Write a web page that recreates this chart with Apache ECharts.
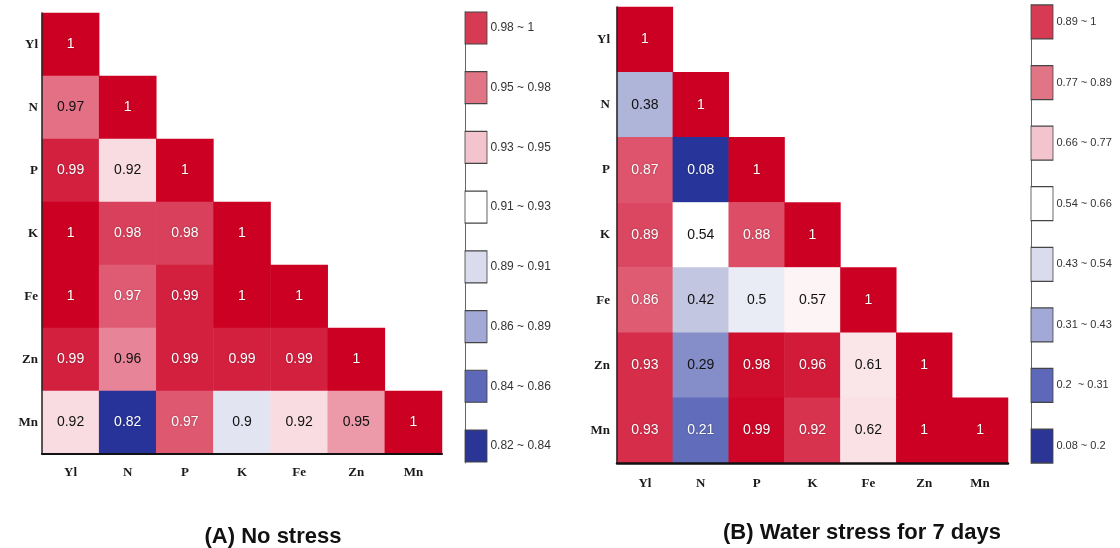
<!DOCTYPE html>
<html>
<head>
<meta charset="utf-8">
<script src="https://cdn.jsdelivr.net/npm/echarts@6/dist/echarts.min.js"></script>
<style>html,body{margin:0;padding:0;background:#fff}#c{width:1120px;height:548px}</style>
</head>
<body>
<div id="c"></div>
<script>
// ---- data ----
const variables = ['Yl', 'N', 'P', 'K', 'Fe', 'Zn', 'Mn'];
// lower triangle, row by row (row variable vs column variable)
const noStress = [
  [1],
  [0.966, 1],
  [0.99, 0.92, 1],
  [1, 0.98, 0.98, 1],
  [1, 0.972, 0.99, 1, 1],
  [0.99, 0.96, 0.99, 0.99, 0.99, 1],
  [0.92, 0.82, 0.973, 0.9, 0.92, 0.95, 1]
];
const waterStress = [
  [1],
  [0.38, 1],
  [0.87, 0.08, 1],
  [0.89, 0.54, 0.88, 1],
  [0.86, 0.42, 0.5, 0.57, 1],
  [0.93, 0.29, 0.98, 0.96, 0.61, 1],
  [0.93, 0.21, 0.99, 0.92, 0.62, 1, 1]
];
const legendA = ['0.98 ~ 1', '0.95 ~ 0.98', '0.93 ~ 0.95', '0.91 ~ 0.93', '0.89 ~ 0.91', '0.86 ~ 0.89', '0.84 ~ 0.86', '0.82 ~ 0.84'];
const legendB = ['0.89 ~ 1', '0.77 ~ 0.89', '0.66 ~ 0.77', '0.54 ~ 0.66', '0.43 ~ 0.54', '0.31 ~ 0.43', '0.2  ~ 0.31', '0.08 ~ 0.2'];
const titles = ['(A) No stress', '(B) Water stress for 7 days'];

// ---- styles ----
const legendColors = ['#d73a53', '#e27585', '#f3c4cd', '#ffffff', '#dadcee', '#a3a9d7', '#5d68b8', '#2a3596'];
const stopsA = ['#283399', '#4a56b0', '#7a84c4', '#b0b6db', '#e2e4f1', '#f9dce2', '#f0aebb', '#e88497', '#d9405b', '#cc0022'];
const stopsB = ['#27359a', '#5a66b8', '#8e96cb', '#c4c8e2', '#ffffff', '#f6d4db', '#ec9aaa', '#dc4a63', '#cc0022'];

function fmt(v) { return String(parseFloat(v.toFixed(2))); }
function cells(rows, darkText) {
  const out = [];
  rows.forEach((row, r) => row.forEach((v, c) => {
    const d = darkText(v);
    out.push({ value: [c, r, v], label: { color: d ? '#111' : '#fff',
      textShadowColor: d ? 'transparent' : 'rgba(0,0,0,0.35)', textShadowBlur: d ? 0 : 2 } });
  }));
  return out;
}
const darkA = v => v >= 0.87 && v < 0.969;
const darkB = v => v >= 0.25 && v < 0.8;

const axisFont = { fontFamily: 'Liberation Serif', fontWeight: 'bold', fontSize: 13, color: '#1a1a1a' };

function heatAxes(gi, xMargin, yMargin, xw) {
  return {
    x: { type: 'category', gridIndex: gi, data: variables, z: 5,
      axisLine: { lineStyle: { color: '#111', width: xw } },
      axisTick: { alignWithLabel: true, length: 6, lineStyle: { color: '#222', width: 1.5 } },
      axisLabel: Object.assign({ margin: xMargin }, axisFont), splitLine: { show: false } },
    y: { type: 'category', gridIndex: gi, data: variables, inverse: true, z: 5,
      axisLine: { lineStyle: { color: '#222', width: 1.5 } },
      axisTick: { alignWithLabel: true, length: 5, lineStyle: { color: '#222', width: 1.5 } },
      axisLabel: Object.assign({ margin: yMargin }, axisFont), splitLine: { show: false } }
  };
}
function legendAxes(gi, min, max) {
  return {
    x: { type: 'category', gridIndex: gi, data: [''], show: false },
    y: { type: 'value', gridIndex: gi, inverse: true, min: min, max: max,
      axisLine: { show: true, lineStyle: { color: '#666', width: 1 } },
      axisTick: { show: true, inside: true, length: 4, customValues: [0,1,2,3,4,5,6,7], lineStyle: { color: '#333' } },
      axisLabel: { show: false }, splitLine: { show: false } }
  };
}
const hA = heatAxes(0, 12, 4, 2), hB = heatAxes(1, 14, 7, 2.5);
const lA = legendAxes(2, -0.268, 7.285), lB = legendAxes(3, -0.28, 7.28);

function legendSeries(gi, labels, h, fs) {
  return { type: 'scatter', xAxisIndex: gi, yAxisIndex: gi, symbol: 'rect', symbolSize: [22, h],
    data: labels.map((l, i) => [0, i]),
    itemStyle: { color: p => legendColors[p.dataIndex], borderColor: '#444', borderWidth: 1, opacity: 1 },
    label: { show: true, position: 'right', distance: 3, formatter: p => labels[p.dataIndex],
      color: '#333', fontSize: fs, fontFamily: 'Liberation Sans' },
    emphasis: { disabled: true }, z: 3 };
}
function heatSeries(gi, rows, dark) {
  return { type: 'heatmap', xAxisIndex: gi, yAxisIndex: gi, data: cells(rows, dark),
    label: { show: true, formatter: p => fmt(p.value[2]), fontSize: 14, fontFamily: 'Liberation Sans' },
    emphasis: { disabled: true } };
}

const titleStyle = { fontFamily: 'Liberation Sans', fontWeight: 'bold', fontSize: 22, color: '#111' };
const option = {
  animation: false,
  backgroundColor: '#fff',
  title: [
    { text: titles[0], left: 268, top: 521, textAlign: 'center', textStyle: titleStyle },
    { text: titles[1], left: 857, top: 517, textAlign: 'center', textStyle: titleStyle }
  ],
  grid: [
    { left: 42, top: 13, width: 400, height: 441 },
    { left: 617, top: 7, width: 391, height: 456 },
    { left: 465, top: 12, width: 22, height: 451 },
    { left: 1031, top: 5, width: 22, height: 458 }
  ],
  xAxis: [hA.x, hB.x, lA.x, lB.x],
  yAxis: [hA.y, hB.y, lA.y, lB.y],
  visualMap: [
    { type: 'continuous', show: false, seriesIndex: 0, min: 0.82, max: 1, inRange: { color: stopsA } },
    { type: 'continuous', show: false, seriesIndex: 1, min: 0.08, max: 1, inRange: { color: stopsB } }
  ],
  series: [
    heatSeries(0, noStress, darkA),
    heatSeries(1, waterStress, darkB),
    legendSeries(2, legendA, 32, 12),
    legendSeries(3, legendB, 34, 11)
  ]
};
const chart = echarts.init(document.getElementById('c'), null, { renderer: 'canvas' });
chart.setOption(option);
</script>
</body>
</html>
